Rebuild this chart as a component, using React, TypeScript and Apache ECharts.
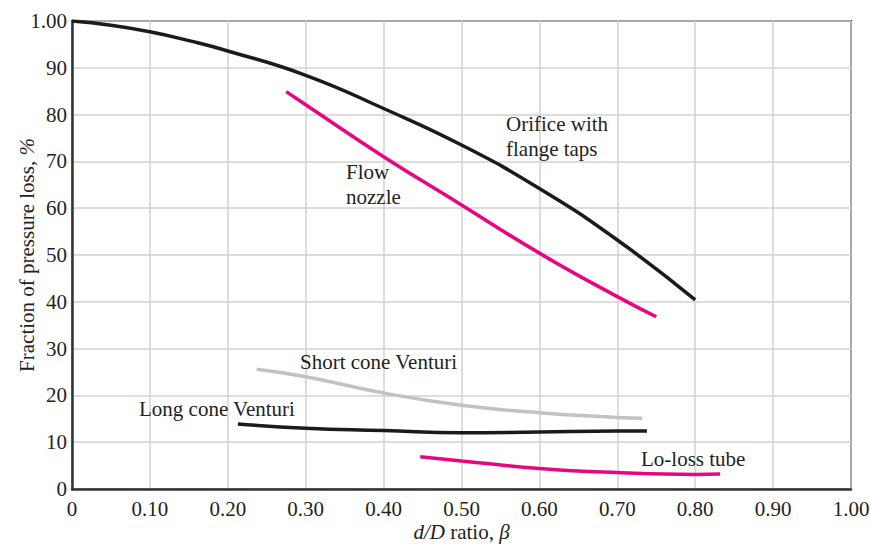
import React, { useEffect, useRef } from "react";
import * as echarts from "echarts";

const orificeBeta = [0, 0.05, 0.1, 0.15, 0.2, 0.3, 0.4, 0.5, 0.6, 0.7, 0.8];
const orificeLoss = [100, 99.1, 97.7, 95.8, 93.6, 88.4, 81.3, 73.5, 64.2, 53.2, 40.4];

const nozzleBeta = [0.275, 0.3, 0.4, 0.5, 0.6, 0.7, 0.75];
const nozzleLoss = [84.9, 82.1, 71.0, 60.7, 50.4, 41.1, 36.8];

const shortBeta = [0.237, 0.3, 0.4, 0.5, 0.6, 0.7, 0.732];
const shortLoss = [25.6, 24.0, 20.5, 17.9, 16.3, 15.3, 15.1];

const longBeta = [0.213, 0.3, 0.4, 0.5, 0.6, 0.7, 0.738];
const longLoss = [13.9, 13.0, 12.5, 12.0, 12.2, 12.4, 12.4];

const loBeta = [0.447, 0.5, 0.6, 0.7, 0.8, 0.832];
const loLoss = [6.9, 6.0, 4.4, 3.5, 3.1, 3.2];

const xTicks = [0, 0.1, 0.2, 0.3, 0.4, 0.5, 0.6, 0.7, 0.8, 0.9, 1.0];
const yTicks = [0, 10, 20, 30, 40, 50, 60, 70, 80, 90, 100];

const FONT = "'Liberation Serif', 'Times New Roman', serif";
const FS = 21;
const BLACK = "#1c1a1b";
const MAGENTA = "#e8067f";
const GRAY = "#c2c2c6";
const TEXT = "#231f20";

const pairs = (xs: number[], ys: number[]) => xs.map((x, i) => [x, ys[i]]);

export default function App() {
  const ref = useRef<HTMLDivElement>(null);
  useEffect(() => {
    if (!ref.current) return;
    const chart = echarts.init(ref.current, undefined, { renderer: "svg" });
    const line = (name: string, data: number[][], color: string) => ({
      name,
      type: "line",
      data,
      smooth: 0.5,
      showSymbol: false,
      symbol: "none",
      lineStyle: { color, width: 3.5, cap: "butt" },
      z: 3,
    });
    const txt = (text: string, x: number, y: number) => ({
      type: "text",
      x,
      y,
      z: 10,
      style: {
        text,
        fill: TEXT,
        fontFamily: FONT,
        fontSize: FS,
        lineHeight: 25,
        textVerticalAlign: "top",
      },
    });
    chart.setOption({
      animation: false,
      backgroundColor: "#ffffff",
      grid: {
        left: 72,
        right: 19,
        top: 21,
        bottom: 55,
        outerBoundsMode: "none",
        containLabel: false,
        show: true,
        borderColor: "#333333",
        borderWidth: 2,
        backgroundColor: "transparent",
      },
      xAxis: {
        type: "value",
        min: 0,
        max: 1,
        interval: 0.1,
        name: "{i|d/D} ratio, {i|β}",
        nameLocation: "middle",
        nameGap: 32,
        nameMoveOverlap: false,
        nameTextStyle: {
          fontFamily: FONT,
          fontSize: FS,
          color: TEXT,
          verticalAlign: "top",
          rich: {
            i: { fontFamily: FONT, fontSize: FS, fontStyle: "italic", color: TEXT },
          },
        },
        axisLine: { show: true, onZero: false, lineStyle: { color: "#333333", width: 2.5 } },
        axisTick: { show: false },
        splitLine: { show: true, lineStyle: { color: "#d2d2d2", width: 1.5 } },
        axisLabel: {
          margin: 9,
          fontFamily: FONT,
          fontSize: FS,
          color: TEXT,
          formatter: (v: number) => {
            const t = xTicks.find((k) => Math.abs(k - v) < 1e-6);
            if (t === undefined) return "";
            return t === 0 ? "0" : t.toFixed(2);
          },
        },
      },
      yAxis: {
        type: "value",
        min: 0,
        max: 100,
        interval: 10,
        name: "Fraction of pressure loss, {i|%}",
        nameLocation: "middle",
        nameGap: 35,
        nameRotate: 90,
        nameMoveOverlap: false,
        nameTextStyle: {
          fontFamily: FONT,
          fontSize: FS,
          color: TEXT,
          rich: {
            i: { fontFamily: FONT, fontSize: FS, fontStyle: "italic", color: TEXT },
          },
        },
        axisLine: { show: true, onZero: false, lineStyle: { color: "#333333", width: 2.5 } },
        axisTick: { show: false },
        splitLine: { show: true, lineStyle: { color: "#d2d2d2", width: 1.5 } },
        axisLabel: {
          margin: 5,
          fontFamily: FONT,
          fontSize: FS,
          color: TEXT,
          formatter: (v: number) => {
            const t = yTicks.find((k) => Math.abs(k - v) < 1e-6);
            if (t === undefined) return "";
            return t === 100 ? "1.00" : String(t);
          },
        },
      },
      series: [
        line("Orifice with flange taps", pairs(orificeBeta, orificeLoss), BLACK),
        line("Flow nozzle", pairs(nozzleBeta, nozzleLoss), MAGENTA),
        line("Short cone Venturi", pairs(shortBeta, shortLoss), GRAY),
        line("Long cone Venturi", pairs(longBeta, longLoss), BLACK),
        line("Lo-loss tube", pairs(loBeta, loLoss), MAGENTA),
      ],
      graphic: [
        txt("Orifice with\nflange taps", 506, 111),
        txt("Flow\nnozzle", 346, 159),
        txt("Short cone Venturi", 300, 349),
        txt("Long cone Venturi", 139, 396),
        txt("Lo-loss tube", 641, 446),
      ],
    });
    return () => chart.dispose();
  }, []);
  return (
    <div
      ref={ref}
      style={{ position: "fixed", left: 0, top: 0, width: 870, height: 544, background: "#fff" }}
    />
  );
}
